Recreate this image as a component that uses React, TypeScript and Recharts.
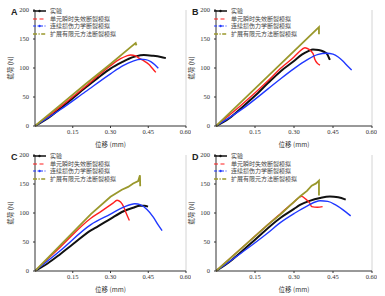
import { LineChart, Line, XAxis, YAxis, Legend, ReferenceLine } from "recharts";

type Pt = [number, number];

const xTicks = [0.15, 0.3, 0.45, 0.6];
const yTicks = [0, 50, 100, 150, 200];
const seriesNames = ["实验", "单元瞬时失效断裂模拟", "连续损伤力学断裂模拟", "扩展有限元方法断裂模拟"];
const seriesColors = ["#111111", "#ff1f1f", "#2038ff", "#9a982c"];
const seriesWidths = [2, 1.4, 1.4, 1.8];

// panel A
const expA: Pt[] = [[0, 0], [0.05, 13], [0.1, 30], [0.15, 48], [0.2, 66], [0.25, 83], [0.3, 99], [0.35, 111], [0.373, 116], [0.4, 120], [0.433, 122.5], [0.47, 121], [0.5, 119], [0.52, 117]];
const elemA: Pt[] = [[0, 0], [0.1, 33], [0.2, 68], [0.3, 104], [0.34, 116], [0.365, 121], [0.38, 122.5], [0.4, 121], [0.413, 117], [0.43, 113], [0.453, 106], [0.467, 99], [0.48, 92.5]];
const cdmA: Pt[] = [[0, 0], [0.1, 28], [0.2, 59], [0.3, 90], [0.35, 104], [0.39, 112], [0.42, 115], [0.44, 114.5], [0.46, 111], [0.475, 106], [0.49, 99.5]];
const xfemA: Pt[] = [[0, 0], [0.1, 36], [0.2, 72], [0.3, 107], [0.38, 136], [0.4, 143], [0.403, 139]];

// panel B
const expB: Pt[] = [[0, 0], [0.05, 13], [0.1, 32], [0.15, 52], [0.2, 74], [0.25, 95], [0.3, 112], [0.33, 123], [0.355, 129], [0.373, 132], [0.395, 131], [0.415, 128], [0.426, 125], [0.433, 119], [0.438, 114]];
const elemB: Pt[] = [[0, 0], [0.1, 37], [0.2, 78], [0.25, 100], [0.3, 119], [0.32, 128], [0.342, 135], [0.358, 132], [0.368, 128], [0.374, 124], [0.38, 115], [0.39, 108], [0.4, 105]];
const cdmB: Pt[] = [[0, 0], [0.1, 29], [0.2, 64], [0.25, 82], [0.3, 99], [0.35, 114], [0.39, 123], [0.426, 125.5], [0.45, 124], [0.47, 119], [0.49, 111], [0.505, 104], [0.522, 96.5]];
const xfemB: Pt[] = [[0, 0], [0.1, 43], [0.2, 86], [0.3, 129], [0.396, 170.5], [0.396, 158]];

// panel C
const expC: Pt[] = [[0, 0], [0.05, 13], [0.1, 29], [0.15, 46], [0.222, 70], [0.25, 77], [0.3, 90], [0.352, 103], [0.39, 109], [0.417, 112.5], [0.435, 112.5], [0.449, 111]];
const elemC: Pt[] = [[0, 0], [0.1, 41], [0.222, 91], [0.26, 102], [0.287, 110], [0.31, 117], [0.326, 122], [0.34, 119], [0.352, 111], [0.362, 100], [0.375, 87]];
const cdmC: Pt[] = [[0, 0], [0.1, 35], [0.222, 80], [0.3, 98], [0.352, 110], [0.397, 116], [0.42, 114], [0.445, 106], [0.47, 93], [0.49, 79], [0.505, 69.5]];
const xfemC: Pt[] = [[0, 0], [0.1, 44], [0.222, 98], [0.3, 128], [0.345, 140], [0.37, 145], [0.39, 151], [0.41, 155], [0.417, 165], [0.418, 146]];

// panel D
const expD: Pt[] = [[0, 0], [0.05, 15], [0.1, 34], [0.15, 54], [0.246, 91], [0.3, 107], [0.323, 114], [0.36, 121], [0.4, 126], [0.438, 128.6], [0.47, 127], [0.499, 123]];
const elemD: Pt[] = [[0, 0], [0.1, 40], [0.2, 80], [0.246, 98], [0.3, 119], [0.33, 128.6], [0.345, 124], [0.355, 120], [0.362, 116], [0.368, 111], [0.39, 110], [0.41, 111]];
const cdmD: Pt[] = [[0, 0], [0.1, 32], [0.2, 66], [0.246, 83], [0.3, 99], [0.35, 112], [0.4, 121], [0.43, 120], [0.46, 114], [0.49, 105], [0.518, 95]];
const xfemD: Pt[] = [[0, 0], [0.1, 40], [0.2, 80], [0.246, 97], [0.323, 128.6], [0.33, 131], [0.35, 138], [0.368, 147], [0.385, 151], [0.396, 155.7], [0.396, 130]];

const tickFont = { fontSize: 6.5, fill: "#333", fontFamily: "Liberation Serif" };
const cjk = "'Noto Sans CJK SC', sans-serif";

const sampleDash = [undefined, "4 2.5", "3 1.5 1 1.5", "4 1.5 1.2 1.5"];

function LegendBox() {
  return (
    <div style={{ fontFamily: cjk, fontSize: 6, color: "#444", lineHeight: "7.7px" }}>
      {seriesNames.map((name, i) => (
        <div key={name} style={{ display: "flex", alignItems: "center", height: 7.7 }}>
          <svg width={13} height={6} style={{ marginRight: 4 }}>
            <line x1={0} y1={3} x2={13} y2={3} stroke={seriesColors[i]} strokeWidth={i === 0 || i === 3 ? 1.5 : 1.2} strokeDasharray={sampleDash[i]} />
            {(i === 0 || i === 2) && <circle cx={6.5} cy={3} r={1.2} fill={seriesColors[i]} />}
          </svg>
          <span>{name}</span>
        </div>
      ))}
    </div>
  );
}

function Panel({ letter, series, left, top, width }: { letter: string; series: Pt[][]; left: number; top: number; width: number }) {
  const lines = series.map((s) => s.map(([x, y]) => ({ x, y })));
  return (
    <div style={{ position: "absolute", left, top, width, height: 148 }}>
      <LineChart width={width} height={148} margin={{ top: 10, right: 5, left: 0, bottom: 0 }}>
        <XAxis
          type="number"
          dataKey="x"
          domain={[0, 0.6]}
          ticks={xTicks}
          tickFormatter={(v: number) => v.toFixed(2)}
          height={22}
          tick={tickFont}
          tickSize={2}
          tickMargin={1}
          stroke="#333"
          allowDataOverflow
          label={{ value: "位移 (mm)", position: "insideBottom", offset: 1, style: { fontSize: 6.5, fill: "#333", fontFamily: cjk } }}
        />
        <YAxis
          type="number"
          dataKey="y"
          domain={[0, 200]}
          ticks={yTicks}
          width={35}
          tick={tickFont}
          tickSize={2}
          tickMargin={4}
          stroke="#333"
          label={{ value: "载荷 (N)", angle: -90, position: "insideLeft", offset: 11, style: { fontSize: 6.5, fill: "#333", fontFamily: cjk, textAnchor: "middle" } }}
        />
        <ReferenceLine x={0.6} stroke="#d4d4d4" />
        {lines.map((d, i) => (
          <Line
            key={i}
            data={d}
            dataKey="y"
            type={i === 3 ? "linear" : "monotone"}
            stroke={seriesColors[i]}
            strokeWidth={seriesWidths[i]}
            dot={false}
            isAnimationActive={false}
          />
        ))}
        <Legend layout="vertical" align="center" verticalAlign="middle" content={() => <LegendBox />} wrapperStyle={{ left: 33, top: 7, width: 120 }} />
      </LineChart>
      <div style={{ position: "absolute", left: 11, top: 8, fontFamily: "'Liberation Sans', Arial, sans-serif", fontWeight: 700, fontSize: 9, lineHeight: "9px", color: "#222" }}>
        {letter}
      </div>
    </div>
  );
}

export default function App() {
  return (
    <div style={{ position: "absolute", left: 0, top: 0, width: 385, height: 296, background: "#fff", overflow: "hidden" }}>
      <Panel letter="A" series={[expA, elemA, cdmA, xfemA]} left={0} top={0} width={191} />
      <Panel letter="B" series={[expB, elemB, cdmB, xfemB]} left={181} top={0} width={196} />
      <Panel letter="C" series={[expC, elemC, cdmC, xfemC]} left={0} top={145} width={191} />
      <Panel letter="D" series={[expD, elemD, cdmD, xfemD]} left={181} top={145} width={196} />
    </div>
  );
}
